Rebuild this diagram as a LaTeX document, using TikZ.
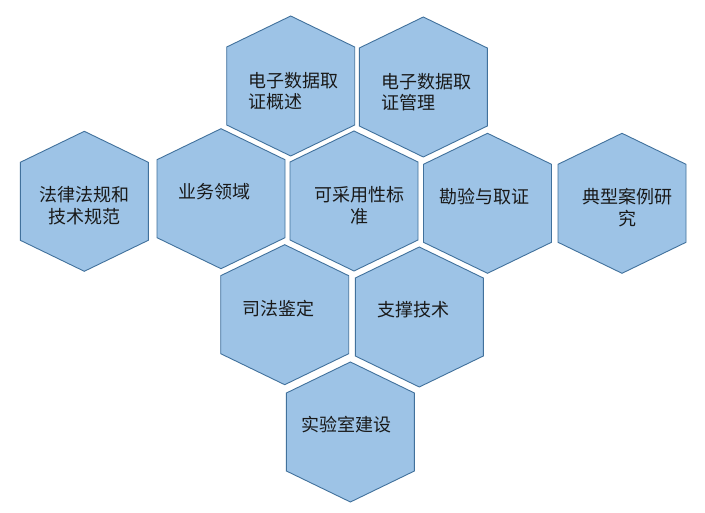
\documentclass[tikz,border=0pt]{standalone}
\usepackage{fontspec}
\newfontfamily\cjk{Noto Sans CJK SC}
\definecolor{hexfill}{RGB}{157,195,230}
\definecolor{hexline}{RGB}{65,113,156}
\definecolor{txt}{RGB}{25,25,25}
\newcommand{\hexat}[2]{%
  \draw[hexshape] (#1,{#2-70}) -- ({#1+64},{#2-39}) -- ({#1+64},{#2+39}) --
    (#1,{#2+70}) -- ({#1-64},{#2+39}) -- ({#1-64},{#2-39}) -- cycle;}
\tikzset{
  hexshape/.style={fill=hexfill, draw=hexline, line width=0.9pt, line join=miter},
  lbl/.style={font=\cjk\fontsize{18}{21.5}\selectfont, text=txt, inner sep=0pt},
}
\begin{document}
\begin{tikzpicture}[x=1pt,y=-1pt]
\useasboundingbox[fill=white] (0,0) rectangle (705,513);
% hexagons
\hexat{290.7}{86}
\hexat{423.3}{87}
\hexat{84.3}{201.3}
\hexat{221}{198.7}
\hexat{354}{201}
\hexat{487.5}{203.3}
\hexat{622}{203.3}
\hexat{284.7}{314.7}
\hexat{419.3}{317}
\hexat{350.4}{432}
% labels
\node[lbl, align=left, anchor=west] (gaishu) at (248.3,91) {电子数据取\\证概述};
\node[lbl, align=left, anchor=west] (guanli) at (381.7,92) {电子数据取\\证管理};
\node[lbl, align=center] (falv) at (84.2,205.5) {法律法规和\\技术规范};
\node[lbl] (yewu) at (214.5,192) {业务领域};
\node[lbl, align=center] (kecai) at (359.5,205.5) {可采用性标\\准};
\node[lbl] (kanyan) at (484,196.5) {勘验与取证};
\node[lbl, align=center] (dianxing) at (627.2,207.5) {典型案例研\\究};
\node[lbl] (sifa) at (278.8,308.5) {司法鉴定};
\node[lbl] (zhicheng) at (413.7,310) {支撑技术};
\node[lbl] (shiyan) at (346.3,425) {实验室建设};
\end{tikzpicture}
\end{document}
